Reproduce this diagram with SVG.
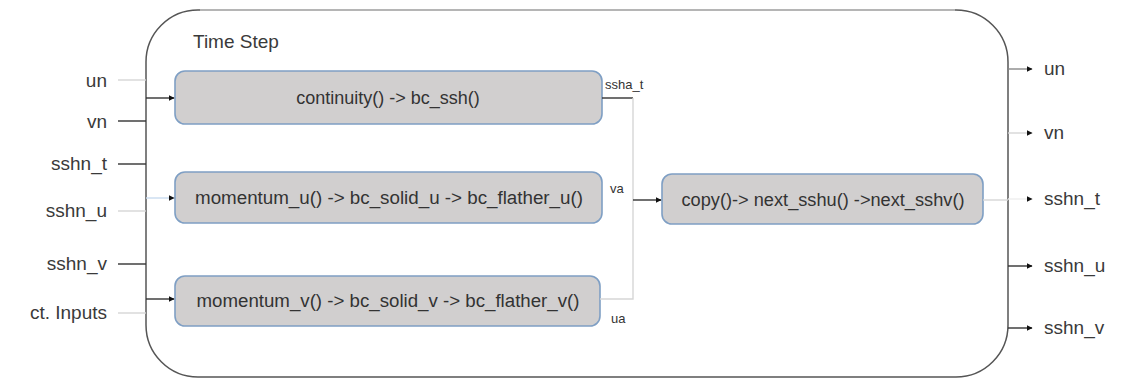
<svg xmlns="http://www.w3.org/2000/svg" width="1126" height="380" viewBox="0 0 1126 380">
<defs>
<marker id="arr" viewBox="0 0 10 10" refX="9" refY="5" markerWidth="6" markerHeight="6" markerUnits="userSpaceOnUse" orient="auto">
<path d="M0,0 L10,5 L0,10 z" fill="#111"/>
</marker>
<style>
.lbl{font-family:"Liberation Sans",Arial,sans-serif;font-size:19px;fill:#3a3a3a}
.small{font-family:"Liberation Sans",Arial,sans-serif;font-size:13px;fill:#333}
.box{fill:#d1cfcf;stroke:#7f9fc4;stroke-width:1.6}
.btxt{font-family:"Liberation Sans",Arial,sans-serif;font-size:18px;fill:#333;text-anchor:middle}
.dark{stroke:#333;stroke-width:1.4;fill:none}
.mid{stroke:#888;stroke-width:1.4;fill:none}
.light{stroke:#d6d6d6;stroke-width:1.4;fill:none}
.blue{stroke:#c9dcf0;stroke-width:1.4;fill:none}
</style>
</defs>
<rect width="1126" height="380" fill="#fff"/>

<g id="timestep">
<rect x="146" y="10" width="862" height="367" rx="52" ry="52" fill="none" stroke="#555" stroke-width="1.5"/>
<line x1="200" y1="10" x2="955" y2="10" stroke="#b5b5b5" stroke-width="2"/>
<text class="lbl" x="193" y="48">Time Step</text>
</g>

<g id="inputs">
<text class="lbl" x="107" y="87" text-anchor="end">un</text>
<text class="lbl" x="107" y="128" text-anchor="end">vn</text>
<text class="lbl" x="107" y="170" text-anchor="end">sshn_t</text>
<text class="lbl" x="107" y="217" text-anchor="end">sshn_u</text>
<text class="lbl" x="107" y="270" text-anchor="end">sshn_v</text>
<text class="lbl" x="107" y="319" text-anchor="end">ct. Inputs</text>
</g>

<g id="outputs">
<text class="lbl" x="1044" y="75">un</text>
<text class="lbl" x="1044" y="139">vn</text>
<text class="lbl" x="1044" y="205">sshn_t</text>
<text class="lbl" x="1044" y="272">sshn_u</text>
<text class="lbl" x="1044" y="334">sshn_v</text>
</g>

<g id="continuity">
<rect class="box" x="175" y="71" width="427" height="53" rx="10"/>
<text class="btxt" x="388" y="104">continuity() -&gt; bc_ssh()</text>
</g>

<g id="momentum_u">
<rect class="box" x="175" y="172" width="427" height="51" rx="10"/>
<text class="btxt" x="389" y="204" textLength="388" lengthAdjust="spacingAndGlyphs">momentum_u() -&gt; bc_solid_u -&gt; bc_flather_u()</text>
</g>

<g id="momentum_v">
<rect class="box" x="175" y="276" width="425" height="50" rx="10"/>
<text class="btxt" x="388" y="307" textLength="383" lengthAdjust="spacingAndGlyphs">momentum_v() -&gt; bc_solid_v -&gt; bc_flather_v()</text>
</g>

<g id="copy">
<rect class="box" x="662" y="174" width="321" height="50" rx="10"/>
<text class="btxt" x="823" y="206" textLength="283" lengthAdjust="spacingAndGlyphs">copy()-&gt; next_sshu() -&gt;next_sshv()</text>
</g>

<g id="connectors">
<line class="light" x1="118" y1="80" x2="146" y2="80"/>
<line class="dark" x1="118" y1="121" x2="146" y2="121"/>
<line class="dark" x1="118" y1="164" x2="146" y2="164"/>
<line class="light" x1="118" y1="211" x2="146" y2="211"/>
<line class="dark" x1="118" y1="264" x2="146" y2="264"/>
<line class="light" x1="118" y1="313" x2="146" y2="313"/>

<line class="dark" x1="146" y1="98" x2="174" y2="98" marker-end="url(#arr)"/>
<line class="blue" x1="146" y1="198" x2="174" y2="198" marker-end="url(#arr)"/>
<line class="dark" x1="146" y1="299" x2="174" y2="299" marker-end="url(#arr)"/>

<line class="dark" x1="602" y1="98" x2="633" y2="98"/>
<path class="light" d="M600,299 H633 V98"/>
<line class="dark" x1="633" y1="200" x2="661" y2="200" marker-end="url(#arr)"/>
<text class="small" x="605" y="89">ssha_t</text>
<text class="small" x="610" y="193">va</text>
<text class="small" x="611" y="323">ua</text>

<line class="light" x1="983" y1="200" x2="1008" y2="200"/>

<line class="mid" x1="1008" y1="69" x2="1032" y2="69" marker-end="url(#arr)"/>
<line class="light" x1="1008" y1="133" x2="1032" y2="133" marker-end="url(#arr)"/>
<line stroke="#eee" stroke-width="1.4" x1="1008" y1="199" x2="1032" y2="199" marker-end="url(#arr)"/>
<line class="dark" x1="1008" y1="266" x2="1032" y2="266" marker-end="url(#arr)"/>
<line class="dark" x1="1008" y1="328" x2="1032" y2="328" marker-end="url(#arr)"/>
</g>
</svg>
